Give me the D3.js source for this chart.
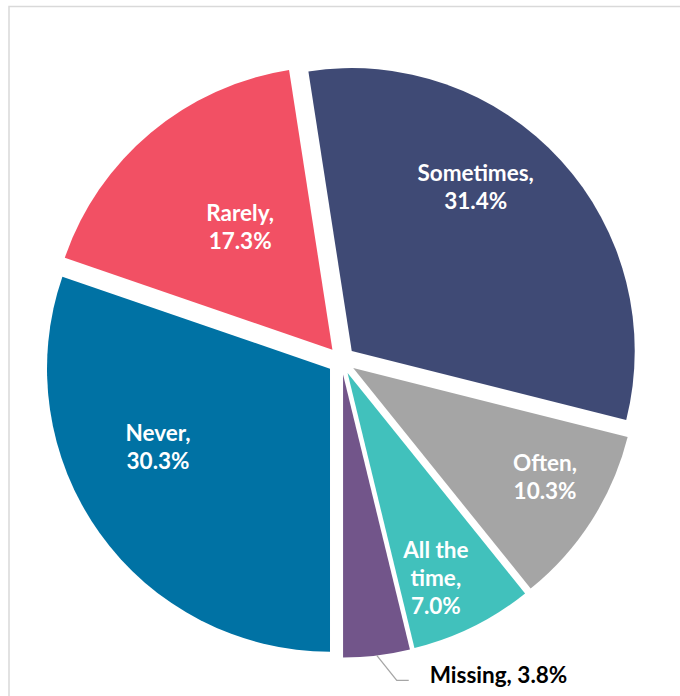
<!DOCTYPE html>
<html>
<head>
<meta charset="utf-8">
<script src="https://cdn.jsdelivr.net/npm/d3@7"></script>
<style>
  html, body { margin: 0; padding: 0; background: #fff; }
  svg { display: block; }
  text { font-family: Lato, "Open Sans", sans-serif; font-weight: 700; }
</style>
</head>
<body>
<svg id="chart" width="680" height="696"></svg>
<script>
// Survey responses, in drawing order (clockwise from the 6 o'clock position)
const categories = ["Never", "Rarely", "Sometimes", "Often", "All the time", "Missing"];
const values = [30.3, 17.3, 31.4, 10.3, 7.0, 3.8];
const colors = ["#0072A4", "#F25064", "#3F4A75", "#A5A5A5", "#41C1BC", "#72558A"];

// Label placement inside each slice: angle offset from slice middle (deg) and radius fraction
const labelLines = [["Never,", "30.3%"], ["Rarely,", "17.3%"], ["Sometimes,", "31.4%"],
                    ["Often,", "10.3%"], ["All the", "time,", "7.0%"], ["Missing, 3.8%"]];
const labelAngleShift = [11, 3, -10.5, -3, 3, 0];
const labelRadius = [0.668, 0.543, 0.725, 0.78, 0.79, 0];

const width = 680, height = 696;
const cx = 341.4, cy = 360.5, R = 283, explode = 14;
const fontSize = 22.5;

const svg = d3.select("#chart");

// Outer frame
svg.append("rect")
  .attr("x", 9).attr("y", 6.5)
  .attr("width", width + 20).attr("height", height + 20)
  .attr("fill", "none").attr("stroke", "#D9D9D9").attr("stroke-width", 1.5);

const pie = d3.pie().sort(null).value(d => d).startAngle(Math.PI).endAngle(3 * Math.PI);
const arcs = pie(values);
const arc = d3.arc().innerRadius(0).outerRadius(R);

const g = svg.append("g").attr("transform", `translate(${cx},${cy})`);

function offset(d, r) {
  const a = (d.startAngle + d.endAngle) / 2;
  return [Math.sin(a) * r, -Math.cos(a) * r];
}

const slice = g.selectAll("g.slice").data(arcs).enter().append("g")
  .attr("class", "slice")
  .attr("transform", d => { const [x, y] = offset(d, explode); return `translate(${x},${y})`; });

slice.append("path")
  .attr("d", arc)
  .attr("fill", (d, i) => colors[i]);

// Inside labels
slice.filter((d, i) => i < 5).each(function (d, i) {
  const mid = (d.startAngle + d.endAngle) / 2 + labelAngleShift[i] * Math.PI / 180;
  const r = R * labelRadius[i];
  const x = Math.sin(mid) * r, y = -Math.cos(mid) * r;
  const lines = labelLines[i];
  const lh = 28;
  const t = d3.select(this).append("text")
    .attr("text-anchor", "middle")
    .attr("fill", "#fff")
    .attr("font-size", fontSize);
  lines.forEach((s, k) => {
    t.append("tspan")
      .attr("x", x)
      .attr("y", y + (k - (lines.length - 1) / 2) * lh)
      .attr("dy", "0.35em")
      .text(s);
  });
});

// Outside label with leader line for the smallest slice
const last = arcs[5];
const [ox, oy] = offset(last, explode);
const mid = (last.startAngle + last.endAngle) / 2;
const p0 = [ox + Math.sin(mid) * R, oy - Math.cos(mid) * R];
const p1 = [p0[0] + 20, p0[1] + 25];
const p2 = [p1[0] + 12, p1[1]];
g.append("polyline")
  .attr("points", [p0, p1, p2].map(p => p.join(",")).join(" "))
  .attr("fill", "none").attr("stroke", "#A6A6A6").attr("stroke-width", 1.3);
g.append("text")
  .attr("x", p2[0] + 21).attr("y", p2[1] - 5)
  .attr("dy", "0.35em")
  .attr("fill", "#000")
  .attr("font-size", fontSize)
  .text(labelLines[5][0]);
</script>
</body>
</html>
